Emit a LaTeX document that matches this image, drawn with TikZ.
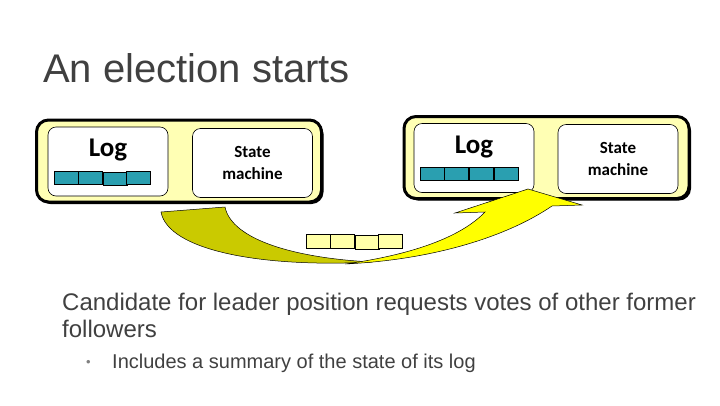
\documentclass[tikz,border=0pt]{standalone}
\usepackage{fontspec}
\setmainfont{Liberation Sans}
\newfontfamily\boxfont{Carlito}
\usepackage{xcolor}
\definecolor{TextGray}{HTML}{404040}
\definecolor{PaleYellow}{HTML}{FFFFB4}
\definecolor{CellYellow}{HTML}{FFFFA8}
\definecolor{LogTeal}{HTML}{2A9FB0}
\definecolor{OliveArrow}{HTML}{CACA00}
\definecolor{BrightArrow}{HTML}{FFFF00}
\usepackage{tikz}
\usetikzlibrary{positioning,shadows}

\begin{document}
\begin{tikzpicture}[x=1pt,y=-1pt,node distance=0pt,
  server/.style={draw,line width=3pt,rounded corners=12pt,fill=PaleYellow,minimum width=285pt,minimum height=82pt,
    drop shadow={shadow xshift=2pt,shadow yshift=-2pt,fill=black,opacity=1}},
  part/.style={draw,line width=0.6pt,rounded corners=8pt,fill=white,minimum width=120pt,minimum height=69pt},
  smtext/.style={part,font=\boxfont\bfseries\fontsize{17}{22}\selectfont,align=center},
  logtext/.style={font=\boxfont\bfseries\fontsize{27}{27}\selectfont,inner sep=0pt},
  cell/.style={draw,line width=0.6pt,fill=LogTeal,minimum width=24pt,minimum height=13pt,inner sep=0pt},
  msgcell/.style={cell,fill=CellYellow,minimum height=14pt},
  bodytext/.style={text=TextGray,inner sep=0pt,anchor=base west}]
\useasboundingbox (0,0) rectangle (720,405);
% title
\node[bodytext,font=\fontsize{40}{40}\selectfont] (title) at (43,82) {An election starts};
% candidate server
\node[server] (srvA) at (179,161) {};
\node[part] (logA) at (108,161.5) {};
\node[smtext] (smA) at (252.5,163) {State\\machine};
\node[logtext] (logtxtA) at (108,150) {Log};
\node[cell] (a1) at (66,177.5) {};
\node[cell,right=of a1] (a2) {};
\node[cell,right=of a2,yshift=-1pt] (a3) {};
\node[cell] (a4) at ([xshift=48pt]a2) {};
% follower server
\node[server] (srvB) at (546.5,157.5) {};
\node[part] (logB) at (474,158) {};
\node[smtext] (smB) at (618,159) {State\\machine};
\node[logtext] (logtxtB) at (474,147) {Log};
\node[cell] (b1) at (432,174) {};
\node[cell,right=of b1] (b2) {};
\node[cell,right=of b2] (b3) {};
\node[cell,right=of b3] (b4) {};
% vote request message
\node[msgcell] (m1) at (318,241) {};
\node[msgcell,right=of m1] (m2) {};
\node[msgcell,right=of m2,yshift=-1pt] (m3) {};
\node[msgcell] (m4) at ([xshift=48pt]m2) {};
% curved arrow
\filldraw[fill=OliveArrow,draw=black,line width=0.5pt] (161,212) -- (225,207)
  .. controls (232,240) and (295,258) .. (372,262)
  .. controls (260,268) and (168,250) .. (161,212) -- cycle;
\filldraw[fill=BrightArrow,draw=black,line width=0.5pt] (345,264)
  .. controls (430,260) and (505,238) .. (552,206) -- (582,205) -- (528,189) -- (455,213) -- (485,212)
  .. controls (460,238) and (410,255) .. (345,264) -- cycle;
% text
\node[bodytext,font=\fontsize{24}{27}\selectfont,align=left] (body) at (62,337) {Candidate for leader position requests votes of other former\\followers};
\node[bodytext,font=\fontsize{13}{13}\selectfont,text=gray] (dot) at (86,366) {\textbullet};
\node[bodytext,font=\fontsize{20}{24}\selectfont] (sub) at (112,368) {Includes a summary of the state of its log};
\end{tikzpicture}
\end{document}
